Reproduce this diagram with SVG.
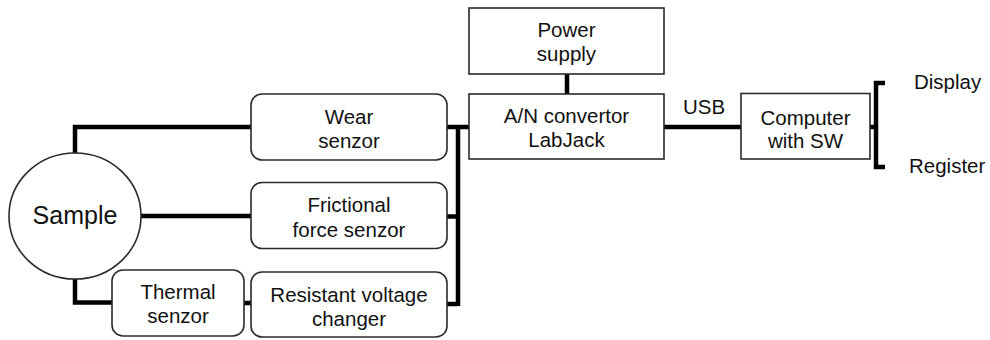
<svg xmlns="http://www.w3.org/2000/svg" width="990" height="340" viewBox="0 0 990 340">
<style>
.box{fill:#fff;stroke:#2a2a2a;stroke-width:1.6}
.t{font-family:"Liberation Sans",Arial,sans-serif;font-size:20.5px;fill:#111;text-anchor:middle}
.ts{text-anchor:start}
.w{fill:none;stroke:#000;stroke-width:4.5}
</style>
<rect width="990" height="340" fill="#fff"/>
<g id="connectors">
<path class="w" d="M251,127 H75 V154"/>
<path class="w" d="M141,216 H251"/>
<path class="w" d="M75,278 V302.5 H112"/>
<path class="w" d="M244,303 H251"/>
<path class="w" d="M447,127 H469 M458,127 V306 M447,216.5 H458 M447,304 H458"/>
<path class="w" d="M567,74 V94"/>
<path class="w" d="M664,127 H741"/>
<path class="w" d="M870,127 H876"/>
<path class="w" d="M885,83 H876 V167 H885"/>
<text class="t" x="704" y="114">USB</text>
</g>
<g id="sample">
<ellipse class="box" cx="75" cy="216" rx="66" ry="63"/>
<text class="t" x="75" y="224" style="font-size:25px">Sample</text>
</g>
<g id="wear">
<rect class="box" x="251" y="94" width="196" height="66" rx="11"/>
<text class="t" x="349" y="124">Wear</text>
<text class="t" x="349" y="148">senzor</text>
</g>
<g id="friction">
<rect class="box" x="251" y="182.5" width="196" height="66" rx="11"/>
<text class="t" x="349" y="212">Frictional</text>
<text class="t" x="349" y="237">force senzor</text>
</g>
<g id="thermal">
<rect class="box" x="112" y="270" width="132" height="66" rx="11"/>
<text class="t" x="178" y="298.5">Thermal</text>
<text class="t" x="178" y="323">senzor</text>
</g>
<g id="resistant">
<rect class="box" x="251" y="272" width="196" height="65" rx="11"/>
<text class="t" x="349" y="302">Resistant voltage</text>
<text class="t" x="349" y="325.5">changer</text>
</g>
<g id="power">
<rect class="box" x="469" y="8" width="195" height="66"/>
<text class="t" x="566.5" y="37">Power</text>
<text class="t" x="566.5" y="61">supply</text>
</g>
<g id="an">
<rect class="box" x="469" y="94" width="195" height="65"/>
<text class="t" x="566.5" y="123">A/N convertor</text>
<text class="t" x="566.5" y="147">LabJack</text>
</g>
<g id="computer">
<rect class="box" x="741" y="93.5" width="129" height="65.5"/>
<text class="t" x="805.5" y="125">Computer</text>
<text class="t" x="805.5" y="148">with SW</text>
</g>
<g id="display">
<text class="t ts" x="914" y="89">Display</text>
</g>
<g id="register">
<text class="t ts" x="909" y="173">Register</text>
</g>
</svg>
